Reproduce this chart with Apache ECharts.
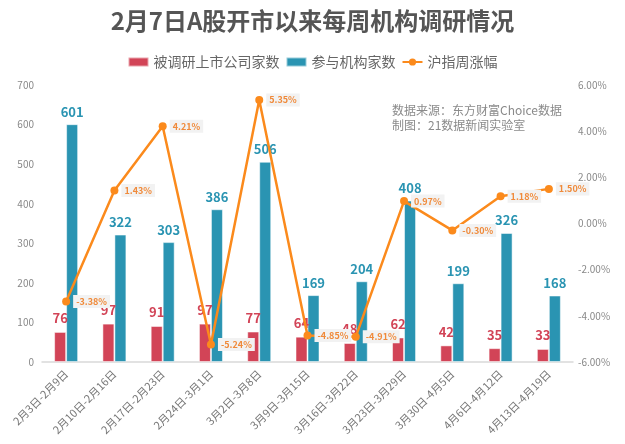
<!DOCTYPE html>
<html><head><meta charset="utf-8">
<script src="https://cdn.jsdelivr.net/npm/echarts@6/dist/echarts.min.js"></script>
<style>html,body{margin:0;padding:0;background:#fff}#c{width:625px;height:444px}</style>
</head><body><div id="c"></div>
<script>
const categories = ['2月3日-2月9日','2月10日-2月16日','2月17日-2月23日','2月24日-3月1日','3月2日-3月8日','3月9日-3月15日','3月16日-3月22日','3月23日-3月29日','3月30日-4月5日','4月6日-4月12日','4月13日-4月19日'];
const companies = [76, 97, 91, 97, 77, 64, 48, 62, 42, 35, 33];
const institutions = [601, 322, 303, 386, 506, 169, 204, 408, 199, 326, 168];
const weeklyChange = [-3.38, 1.43, 4.21, -5.24, 5.35, -4.85, -4.91, 0.97, -0.30, 1.18, 1.50];
const leftTicks = [0, 700, 100];
const rightTicks = [-6, 6, 2];

const RED = '#d24457', BLUE = '#2a94b2', ORANGE = '#fb8a1c';
const font = '"Noto Sans CJK SC", "Noto Sans", sans-serif';
const chart = echarts.init(document.getElementById('c'));
chart.setOption({
  animation: false,
  textStyle: { fontFamily: font },
  title: {
    text: '2月7日A股开市以来每周机构调研情况',
    left: 'center', top: 4,
    textStyle: { fontSize: 24, fontWeight: 'bold', color: '#555', fontFamily: font }
  },
  legend: {
    top: 50, left: 'center', itemWidth: 20, itemHeight: 9, itemGap: 6,
    textStyle: { fontSize: 14, color: '#666' },
    data: [
      { name: '被调研上市公司家数', icon: 'rect' },
      { name: '参与机构家数', icon: 'rect' },
      { name: '沪指周涨幅' }
    ]
  },
  graphic: [{
    type: 'text', left: 392, top: 103,
    style: { text: '数据来源：东方财富Choice数据\n制图：21数据新闻实验室', fill: '#8a8a8a', fontSize: 12, lineHeight: 15, fontFamily: font }
  }],
  grid: { left: 42, right: 52, top: 85, bottom: 82 },
  xAxis: {
    type: 'category', data: categories,
    axisLine: { lineStyle: { color: '#d9d9d9', width: 1.5 } },
    axisTick: { show: false },
    axisLabel: { rotate: 45, color: '#777', fontSize: 11, interval: 0, margin: 10 }
  },
  yAxis: [{
    type: 'value', min: leftTicks[0], max: leftTicks[1], interval: leftTicks[2],
    splitLine: { show: false }, axisLine: { show: false }, axisTick: { show: false },
    axisLabel: { color: '#888', fontSize: 10, margin: 8 }
  }, {
    type: 'value', min: rightTicks[0], max: rightTicks[1], interval: rightTicks[2],
    splitLine: { show: false }, axisLine: { show: false }, axisTick: { show: false },
    axisLabel: { color: '#888', fontSize: 10, margin: 5, formatter: v => v.toFixed(2) + '%' }
  }],
  series: [{
    name: '被调研上市公司家数', type: 'bar', data: companies, barWidth: 12, barGap: '0%', z: 3,
    itemStyle: { color: RED, borderColor: 'rgba(255,255,255,0.5)', borderWidth: 1 },
    labelLayout: { hideOverlap: false },
    label: { show: true, position: 'top', color: RED, fontSize: 13, fontWeight: 'bold', distance: 7 }
  }, {
    name: '参与机构家数', type: 'bar', data: institutions, barWidth: 12, z: 2,
    itemStyle: { color: BLUE, borderColor: 'rgba(255,255,255,0.5)', borderWidth: 1 },
    labelLayout: { hideOverlap: false },
    label: { show: true, position: 'top', color: BLUE, fontSize: 13, fontWeight: 'bold', distance: 6 }
  }, {
    name: '沪指周涨幅', type: 'line', yAxisIndex: 1, data: weeklyChange,
    symbol: 'circle', symbolSize: 8,
    lineStyle: { color: ORANGE, width: 2.5 }, itemStyle: { color: ORANGE },
    labelLayout: { hideOverlap: false },
    label: {
      show: true, position: 'right', distance: 3, offset: [0, 1],
      formatter: p => p.value.toFixed(2) + '%',
      color: '#f08a3a', fontSize: 9, fontWeight: 'bold',
      backgroundColor: '#f2f2f2', padding: [2, 3]
    },
    z: 5
  }]
});
</script></body></html>
